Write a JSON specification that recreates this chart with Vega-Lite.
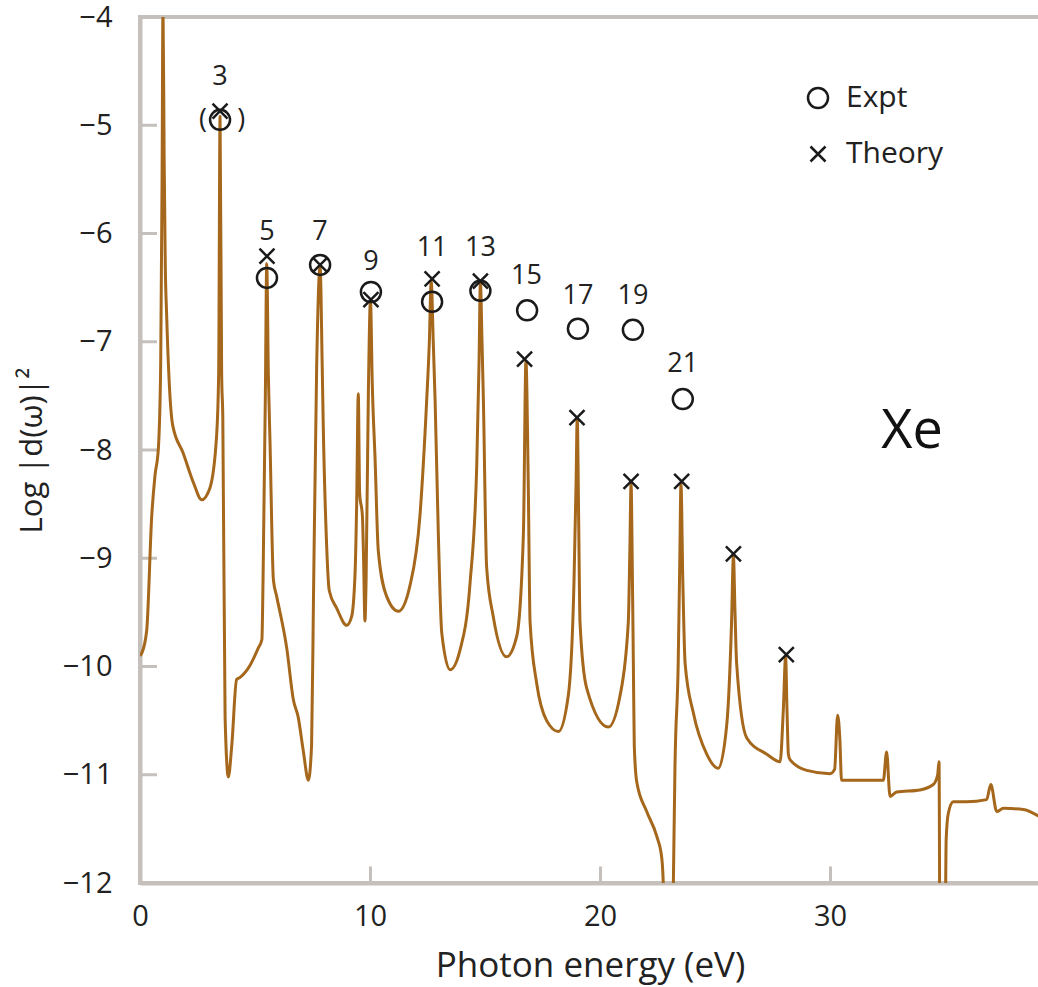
{
  "$schema": "https://vega.github.io/schema/vega-lite/v6.json",
  "width": 900,
  "height": 866,
  "autosize": {"type": "none"},
  "padding": {"left": 140, "top": 17, "right": 0, "bottom": 104},
  "background": "white",
  "config": {
    "font": "Open Sans",
    "view": {"stroke": "#c5c0bb", "strokeWidth": 4},
    "axis": {
      "ticks": false,
      "labelFlush": false,
      "domainColor": "#c5c0bb",
      "domainWidth": 4,
      "labelFontSize": 29,
      "labelColor": "#222222",
      "titleFontWeight": "normal",
      "titleColor": "#222222"
    },
    "legend": {
      "labelFontSize": 30,
      "labelColor": "#222222",
      "symbolStrokeColor": "#1a1a1a",
      "symbolStrokeWidth": 2.5,
      "symbolFillColor": "transparent",
      "symbolSize": 400,
      "symbolOpacity": 1
    }
  },
  "layer": [
    {
      "data": {"values": [{"t":-11},{"t":-10},{"t":-9},{"t":-8},{"t":-7},{"t":-6},{"t":-5}]},
      "mark": {"type": "rule", "color": "#c5c0bb", "strokeWidth": 3},
      "encoding": {
        "y": {"field": "t", "type": "quantitative", "scale": {"domain": [-12, -4], "nice": false},
              "axis": {"values": [-12, -11, -10, -9, -8, -7, -6, -5, -4], "format": "d", "grid": false, "labelExpr": "replace(datum.label, '-', '−')", "title": "Log |d(ω)|²", "titleFontSize": 31, "labelPadding": 28, "titlePadding": 14}},
        "x": {"datum": 0, "type": "quantitative", "scale": {"domain": [0, 39.13], "nice": false},
              "axis": {"values": [0, 10, 20, 30], "format": "d", "grid": true, "gridColor": "#c5c0bb", "gridWidth": 3, "gridOpacity": 1, "gridDash": [0, 849, 17, 100], "title": "Photon energy (eV)", "titleFontSize": 35, "labelPadding": 19, "titlePadding": 17}},
        "x2": {"datum": 0.74}
      }
    },
    {
      "data": {"values": [
        {"E":0.0,"v":-9.9},{"E":0.07,"v":-9.88},{"E":0.29,"v":-9.67},{"E":0.51,"v":-8.61},{"E":0.65,"v":-8.24},{"E":0.8,"v":-7.98},{"E":0.9,"v":-7.2},{"E":0.96,"v":-5.5},{"E":1.0,"v":-3.9},{"E":1.05,"v":-5.3},{"E":1.1,"v":-6.3},{"E":1.16,"v":-6.76},{"E":1.42,"v":-7.77},{"E":1.88,"v":-8.03},{"E":2.32,"v":-8.3},{"E":2.68,"v":-8.46},{"E":3.04,"v":-8.35},{"E":3.33,"v":-7.87},{"E":3.42,"v":-7.29},{"E":3.48,"v":-4.92},{"E":3.55,"v":-7.3},{"E":3.6,"v":-7.7},{"E":3.7,"v":-10.47},{"E":3.84,"v":-11.02},{"E":3.99,"v":-10.73},{"E":4.2,"v":-10.12},{"E":4.35,"v":-10.1},{"E":4.78,"v":-9.99},{"E":5.14,"v":-9.83},{"E":5.3,"v":-9.75},{"E":5.35,"v":-9.2},{"E":5.45,"v":-7.5},{"E":5.51,"v":-6.28},{"E":5.58,"v":-7.3},{"E":5.65,"v":-7.9},{"E":5.8,"v":-9.2},{"E":5.94,"v":-9.35},{"E":6.38,"v":-9.83},{"E":6.67,"v":-10.31},{"E":6.88,"v":-10.47},{"E":7.1,"v":-10.78},{"E":7.32,"v":-11.05},{"E":7.46,"v":-10.73},{"E":7.54,"v":-9.41},{"E":7.68,"v":-7.24},{"E":7.83,"v":-6.3},{"E":7.92,"v":-7.2},{"E":7.97,"v":-7.8},{"E":8.1,"v":-8.8},{"E":8.23,"v":-9.3},{"E":8.55,"v":-9.46},{"E":8.99,"v":-9.62},{"E":9.2,"v":-9.54},{"E":9.35,"v":-9.14},{"E":9.42,"v":-8.5},{"E":9.49,"v":-7.48},{"E":9.55,"v":-8.4},{"E":9.67,"v":-8.61},{"E":9.72,"v":-9.0},{"E":9.78,"v":-9.58},{"E":9.83,"v":-9.2},{"E":9.93,"v":-7.45},{"E":10.02,"v":-6.62},{"E":10.1,"v":-7.4},{"E":10.22,"v":-8.08},{"E":10.36,"v":-8.93},{"E":10.72,"v":-9.35},{"E":11.23,"v":-9.49},{"E":11.74,"v":-9.25},{"E":12.17,"v":-8.61},{"E":12.46,"v":-7.56},{"E":12.58,"v":-7.0},{"E":12.66,"v":-6.44},{"E":12.75,"v":-7.0},{"E":12.83,"v":-7.54},{"E":12.97,"v":-8.77},{"E":13.12,"v":-9.69},{"E":13.48,"v":-10.03},{"E":13.91,"v":-9.85},{"E":14.35,"v":-9.23},{"E":14.64,"v":-8.15},{"E":14.74,"v":-7.2},{"E":14.8,"v":-6.45},{"E":14.87,"v":-7.0},{"E":14.93,"v":-7.54},{"E":15.07,"v":-9.08},{"E":15.36,"v":-9.54},{"E":15.94,"v":-9.91},{"E":16.38,"v":-9.72},{"E":16.67,"v":-8.77},{"E":16.78,"v":-7.18},{"E":16.88,"v":-8.3},{"E":16.96,"v":-9.59},{"E":17.25,"v":-10.16},{"E":17.68,"v":-10.5},{"E":18.19,"v":-10.6},{"E":18.62,"v":-10.27},{"E":18.87,"v":-9.21},{"E":18.96,"v":-8.3},{"E":19.01,"v":-7.7},{"E":19.07,"v":-8.6},{"E":19.13,"v":-9.59},{"E":19.42,"v":-10.2},{"E":20.36,"v":-10.56},{"E":20.87,"v":-10.27},{"E":21.23,"v":-9.59},{"E":21.3,"v":-8.9},{"E":21.35,"v":-8.31},{"E":21.41,"v":-9.2},{"E":21.45,"v":-9.97},{"E":21.49,"v":-10.73},{"E":21.6,"v":-11.07},{"E":22.03,"v":-11.34},{"E":22.47,"v":-11.57},{"E":22.68,"v":-11.76},{"E":22.75,"v":-12.0},{"E":22.8,"v":-12.6},{"E":23.15,"v":-12.6},{"E":23.19,"v":-12.0},{"E":23.26,"v":-10.92},{"E":23.4,"v":-9.97},{"E":23.47,"v":-9.0},{"E":23.52,"v":-8.31},{"E":23.6,"v":-9.2},{"E":23.7,"v":-9.97},{"E":24.06,"v":-10.43},{"E":24.64,"v":-10.81},{"E":25.14,"v":-10.94},{"E":25.51,"v":-10.54},{"E":25.72,"v":-9.59},{"E":25.8,"v":-8.98},{"E":25.87,"v":-9.5},{"E":25.94,"v":-9.97},{"E":26.38,"v":-10.66},{"E":27.25,"v":-10.81},{"E":27.83,"v":-10.88},{"E":27.97,"v":-10.4},{"E":28.07,"v":-9.91},{"E":28.13,"v":-10.4},{"E":28.19,"v":-10.81},{"E":28.26,"v":-10.86},{"E":28.99,"v":-10.96},{"E":30.0,"v":-10.99},{"E":30.2,"v":-10.95},{"E":30.33,"v":-10.45},{"E":30.43,"v":-10.68},{"E":30.5,"v":-11.05},{"E":32.32,"v":-11.05},{"E":32.46,"v":-10.79},{"E":32.61,"v":-11.2},{"E":32.9,"v":-11.16},{"E":33.91,"v":-11.14},{"E":34.49,"v":-11.09},{"E":34.68,"v":-11.0},{"E":34.74,"v":-10.88},{"E":34.78,"v":-12.6},{"E":35.0,"v":-12.6},{"E":35.05,"v":-11.6},{"E":35.14,"v":-11.36},{"E":35.36,"v":-11.25},{"E":35.94,"v":-11.25},{"E":36.81,"v":-11.23},{"E":36.99,"v":-11.09},{"E":37.25,"v":-11.34},{"E":37.54,"v":-11.31},{"E":38.4,"v":-11.32},{"E":39.13,"v":-11.39}
      ]},
      "mark": {"type": "line", "color": "#a5671b", "strokeWidth": 3, "clip": true, "strokeJoin": "round", "interpolate": "monotone"},
      "encoding": {
        "x": {"field": "E", "type": "quantitative"},
        "y": {"field": "v", "type": "quantitative"}
      }
    },
    {
      "data": {"values": [
        {"E":3.48,"v":-4.95,"type":"Expt"},{"E":5.52,"v":-6.41,"type":"Expt"},{"E":7.83,"v":-6.29,"type":"Expt"},{"E":10.04,"v":-6.54,"type":"Expt"},{"E":12.7,"v":-6.63,"type":"Expt"},{"E":14.8,"v":-6.53,"type":"Expt"},{"E":16.83,"v":-6.71,"type":"Expt"},{"E":19.04,"v":-6.88,"type":"Expt"},{"E":21.43,"v":-6.89,"type":"Expt"},{"E":23.6,"v":-7.53,"type":"Expt"},
        {"E":3.48,"v":-4.87,"type":"Theory"},{"E":5.52,"v":-6.21,"type":"Theory"},{"E":7.83,"v":-6.29,"type":"Theory"},{"E":10.04,"v":-6.61,"type":"Theory"},{"E":12.7,"v":-6.42,"type":"Theory"},{"E":14.8,"v":-6.44,"type":"Theory"},{"E":16.72,"v":-7.16,"type":"Theory"},{"E":19.0,"v":-7.7,"type":"Theory"},{"E":21.35,"v":-8.29,"type":"Theory"},{"E":23.55,"v":-8.29,"type":"Theory"},{"E":25.8,"v":-8.96,"type":"Theory"},{"E":28.1,"v":-9.89,"type":"Theory"}
      ]},
      "mark": {"type": "point", "filled": false, "color": "#1a1a1a", "opacity": 1, "strokeWidth": 2.5, "size": 400},
      "encoding": {
        "x": {"field": "E", "type": "quantitative"},
        "y": {"field": "v", "type": "quantitative"},
        "shape": {"field": "type", "type": "nominal",
                  "scale": {"domain": ["Expt", "Theory"], "range": ["circle", "M-0.75,-0.75L0.75,0.75M0.75,-0.75L-0.75,0.75"]},
                  "legend": {"title": null, "orient": "none", "legendX": 663, "legendY": 66, "rowPadding": 26, "labelOffset": 13}}
      }
    },
    {
      "data": {"values": [
        {"E":3.48,"v":-4.55,"label":"3"},{"E":5.52,"v":-5.99,"label":"5"},{"E":7.83,"v":-5.99,"label":"7"},{"E":10.04,"v":-6.26,"label":"9"},{"E":12.7,"v":-6.13,"label":"11"},{"E":14.8,"v":-6.13,"label":"13"},{"E":16.8,"v":-6.39,"label":"15"},{"E":19.04,"v":-6.58,"label":"17"},{"E":21.43,"v":-6.58,"label":"19"},{"E":23.6,"v":-7.21,"label":"21"},
        {"E":2.74,"v":-4.95,"label":"("},{"E":4.4,"v":-4.95,"label":")"}
      ]},
      "mark": {"type": "text", "fontSize": 27, "color": "#222222", "baseline": "middle", "align": "center"},
      "encoding": {
        "x": {"field": "E", "type": "quantitative"},
        "y": {"field": "v", "type": "quantitative"},
        "text": {"field": "label"}
      }
    },
    {
      "data": {"values": [{"E":33.57,"v":-7.83,"label":"Xe"}]},
      "mark": {"type": "text", "fontSize": 54, "color": "#111111", "baseline": "middle", "align": "center"},
      "encoding": {
        "x": {"field": "E", "type": "quantitative"},
        "y": {"field": "v", "type": "quantitative"},
        "text": {"field": "label"}
      }
    }
  ]
}
